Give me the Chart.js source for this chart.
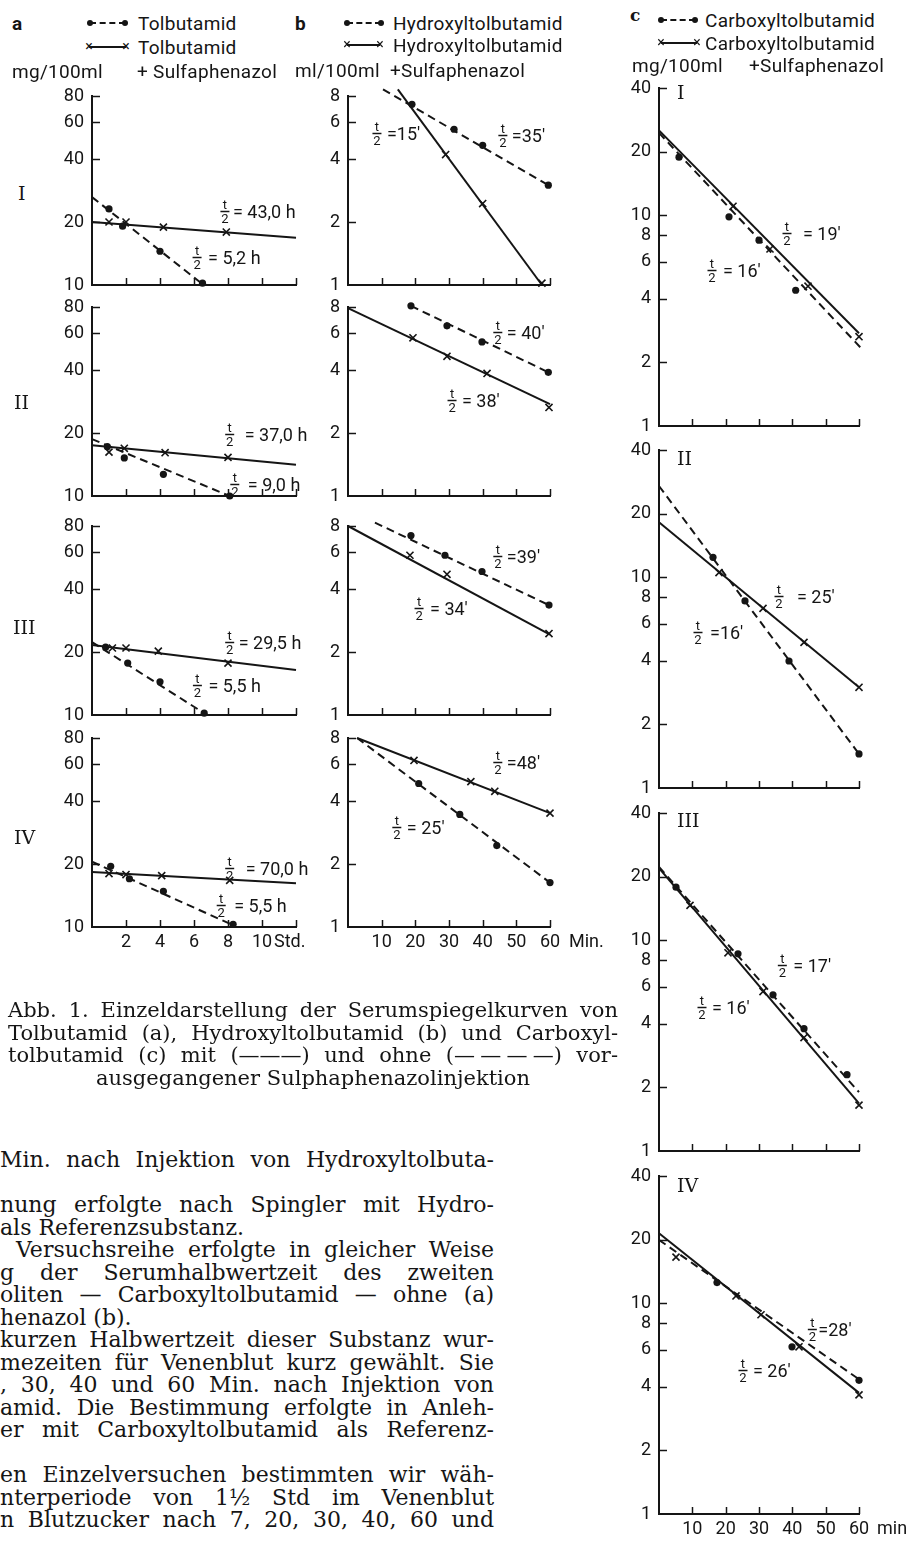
<!DOCTYPE html>
<html>
<head>
<meta charset="utf-8">
<script src="https://cdn.jsdelivr.net/npm/chart.js@4.4.0/dist/chart.umd.min.js"></script>
<style>
  body { margin: 0; background: #fff; }
  #page { position: relative; width: 907px; height: 1542px; overflow: hidden; background: #fff; color: #151515; font-family: Roboto, sans-serif; }
  canvas { position: absolute; }
  .t { position: absolute; white-space: nowrap; transform: translateY(-50%); line-height: 1; font-size: 19px; letter-spacing: 0.3px; }
  .hd { font-weight: bold; font-size: 19px; }
  .hc { font-family: 'DejaVu Serif', serif; font-weight: bold; font-size: 17px; }
  .rom { font-family: 'DejaVu Serif', serif; font-size: 19px; letter-spacing: 0; }
  .ln { position: absolute; height: 0; border-top: 2px solid #151515; }
  .ln.dash { border-top-style: dashed; }
  .dot { position: absolute; width: 6px; height: 6px; border-radius: 50%; background: #151515; }
  .x { position: absolute; font-size: 14px; line-height: 1; transform: translate(-50%, -55%); }
  .serif { position: absolute; font-family: 'DejaVu Serif', serif; white-space: nowrap; line-height: 1; transform: translateY(-50%); }
</style>
</head>
<body>
<div id="page"></div>
<script>
// ---- data ----
// a: Tolbutamid, hours vs mg/100ml
const aI_dotT = [1, 1.8, 4, 6.5],       aI_dotV = [23.1, 19.1, 14.5, 10.2];
const aI_crossT = [1, 2, 4.2, 7.9],     aI_crossV = [20.0, 20.0, 18.9, 17.9];
const aI_dashT = [0, 6.5],              aI_dashV = [26.3, 10.1];
const aI_solidT = [0, 12],              aI_solidV = [20.0, 16.8];

const aII_dotT = [0.9, 1.9, 4.2, 8.1],  aII_dotV = [17.2, 15.2, 12.7, 10.0];
const aII_crossT = [1, 1.9, 4.3, 8.0],  aII_crossV = [16.2, 16.9, 16.1, 15.3];
const aII_dashT = [0, 8.1],             aII_dashV = [18.7, 10.0];
const aII_solidT = [0, 12],             aII_solidV = [17.5, 14.1];

const aIII_dotT = [0.8, 2.1, 4.0, 6.6], aIII_dotV = [21.1, 17.7, 14.4, 10.2];
const aIII_crossT = [1.2, 2.0, 3.9, 8.0], aIII_crossV = [20.9, 20.9, 20.2, 17.7];
const aIII_dashT = [0, 6.6],            aIII_dashV = [22.3, 10.2];
const aIII_solidT = [0, 12],            aIII_solidV = [21.6, 16.4];

const aIV_dotT = [1.1, 2.2, 4.2, 8.3],  aIV_dotV = [19.5, 17.0, 14.8, 10.3];
const aIV_crossT = [1.0, 2.0, 4.1, 8.1], aIV_crossV = [18.0, 17.8, 17.6, 16.7];
const aIV_dashT = [0, 8.3],             aIV_dashV = [20.5, 10.2];
const aIV_solidT = [0, 12],             aIV_solidV = [18.3, 16.2];

// b: Hydroxyltolbutamid, minutes
const bI_dotT = [19, 31.5, 40, 59.5],   bI_dotV = [7.3, 5.55, 4.65, 3.0];
const bI_crossT = [29, 40, 57.6],       bI_crossV = [4.2, 2.45, 1.02];
const bI_dashT = [10.4, 59.5],          bI_dashV = [8.6, 3.0];
const bI_solidT = [14.8, 57.6],         bI_solidV = [8.6, 1.0];

const bII_dotT = [18.7, 29.4, 39.8, 59.5], bII_dotV = [8.1, 6.5, 5.45, 3.9];
const bII_crossT = [19.3, 29.4, 41.3, 59.7], bII_crossV = [5.7, 4.65, 3.85, 2.65];
const bII_dashT = [18.7, 59.5],         bII_dashV = [8.1, 3.9];
const bII_solidT = [0, 60],             bII_solidV = [7.9, 2.75];

const bIII_dotT = [18.7, 28.8, 39.8, 59.7], bIII_dotV = [7.2, 5.8, 4.85, 3.35];
const bIII_crossT = [18.4, 29.4, 59.7], bIII_crossV = [5.8, 4.7, 2.45];
const bIII_dashT = [8, 59.7],           bIII_dashV = [8.3, 3.35];
const bIII_solidT = [0, 60],            bIII_solidV = [8.0, 2.42];

const bIV_dotT = [21, 33.2, 44.2, 60],  bIV_dotV = [4.85, 3.45, 2.45, 1.63];
const bIV_crossT = [19.6, 36.5, 43.6, 60], bIV_crossV = [6.25, 4.95, 4.45, 3.5];
const bIV_dashT = [2.7, 60],            bIV_dashV = [8.0, 1.63];
const bIV_solidT = [2.7, 60],           bIV_solidV = [8.0, 3.5];

// c: Carboxyltolbutamid, minutes
const cI_dotT = [6, 21, 30, 41],        cI_dotV = [18.8, 9.8, 7.6, 4.4];
const cI_crossT = [22.2, 33.3, 44.7, 60], cI_crossV = [11.0, 6.9, 4.6, 2.65];
const cI_dashT = [0, 60.5],             cI_dashV = [24.5, 2.35];
const cI_solidT = [0, 60],              cI_solidV = [25.2, 2.75];

const cII_dotT = [16.2, 25.8, 39, 60],  cII_dotV = [12.4, 7.7, 4.0, 1.45];
const cII_crossT = [18, 31.2, 43.5, 60], cII_crossV = [10.5, 7.1, 4.9, 3.0];
const cII_dashT = [0, 60],              cII_dashV = [27.0, 1.45];
const cII_solidT = [0, 60],             cII_solidV = [18.2, 3.0];

const cIII_dotT = [5.1, 23.7, 34.2, 43.5, 56.4], cIII_dotV = [17.8, 8.6, 5.5, 3.8, 2.3];
const cIII_crossT = [9.3, 20.7, 31.2, 43.5, 60], cIII_crossV = [14.6, 8.7, 5.7, 3.45, 1.65];
const cIII_dashT = [0, 60],             cIII_dashV = [22.2, 1.9];
const cIII_solidT = [0, 60],            cIII_solidV = [21.9, 1.68];

const cIV_dotT = [17.4, 39.9, 60],      cIV_dotV = [12.5, 6.2, 4.3];
const cIV_crossT = [5.1, 23.1, 30.6, 42, 60], cIV_crossV = [16.5, 10.8, 8.8, 6.2, 3.67];
const cIV_dashT = [0, 60],              cIV_dashV = [19.9, 4.35];
const cIV_solidT = [0, 60],             cIV_solidV = [21.4, 3.75];

// axis ticks
const aYTicks = [10, 20, 40, 60, 80];
const bYTicks = [1, 2, 4, 6, 8];
const cYTicks = [1, 2, 4, 6, 8, 10, 20, 40];
const aXMarks = [2, 4, 6, 8, 10, 12], aXLabels = [2, 4, 6, 8, 10];
const minXMarks = [10, 20, 30, 40, 50, 60], minXLabels = [10, 20, 30, 40, 50, 60];

// half-life labels
const notesA = [
  [{t: 7.82, v: 22.6, s: '= 43,0 h', dx: 8}, {t: 6.18, v: 13.6, s: '= 5,2 h', dx: 11}],
  [{t: 8.1, v: 19.8, s: '= 37,0 h', dx: 15}, {t: 8.4, v: 11.4, s: '= 9,0 h', dx: 13}],
  [{t: 8.1, v: 22.3, s: '= 29,5 h', dx: 9}, {t: 6.2, v: 13.9, s: '= 5,5 h', dx: 11}],
  [{t: 8.1, v: 19.1, s: '= 70,0 h', dx: 16}, {t: 7.6, v: 12.7, s: '= 5,5 h', dx: 13}]
];
const notesB = [
  [{t: 8.6, v: 5.3, s: "=15'", dx: 10}, {t: 46, v: 5.2, s: "=35'", dx: 9}],
  [{t: 44.5, v: 6.07, s: "= 40'", dx: 9}, {t: 30.9, v: 2.87, s: "= 38'", dx: 10}],
  [{t: 44.5, v: 5.75, s: "=39'", dx: 9}, {t: 21.1, v: 3.24, s: "= 34'", dx: 11}],
  [{t: 44.5, v: 6.15, s: "=48'", dx: 9}, {t: 14.5, v: 3.0, s: "= 25'", dx: 10}]
];
const notesC = [
  [{t: 38.4, v: 8.2, s: "= 19'", dx: 16}, {t: 15.9, v: 5.5, s: "= 16'", dx: 11}],
  [{t: 36, v: 8.1, s: "= 25'", dx: 18}, {t: 11.7, v: 5.5, s: "=16'", dx: 12}],
  [{t: 37, v: 7.6, s: "= 17'", dx: 11}, {t: 12.9, v: 4.8, s: "= 16'", dx: 10}],
  [{t: 46, v: 7.5, s: "=28'", dx: 6}, {t: 25.2, v: 4.8, s: "= 26'", dx: 10}]
];

// ---- layout ----
const INK = '#151515';
const page = document.getElementById('page');
const COLS = {
  a: {L: 30, R: 330, axL: 92, axR: 296, rows: [96, 307, 526, 738], h: 189, xmax: 12, ymin: 10, ymax: 80,
      yTicks: aYTicks, xMarks: aXMarks, xLabels: aXLabels, unit: 'Std.', unitAt: 10, unitDx: 12},
  b: {L: 300, R: 615, axL: 348, axR: 550, rows: [96, 307, 526, 738], h: 189, xmax: 60, ymin: 1, ymax: 8,
      yTicks: bYTicks, xMarks: minXMarks, xLabels: minXLabels, unit: 'Min.', unitAt: 60, unitDx: 19},
  c: {L: 612, R: 907, axL: 659, axR: 859, rows: [88, 450, 813, 1176], h: 338, xmax: 60, ymin: 1, ymax: 40,
      yTicks: cYTicks, xMarks: minXMarks, xLabels: minXLabels, unit: 'min', unitAt: 60, unitDx: 18}
};

function xy(ts, vs) { return ts.map((t, i) => ({x: t, y: vs[i]})); }

function deco(g, notes, bottom) {
  return {
    id: 'deco',
    afterDraw(chart) {
      const ctx = chart.ctx, xs = chart.scales.x, ys = chart.scales.y, ar = chart.chartArea;
      ctx.save();
      ctx.strokeStyle = INK; ctx.fillStyle = INK; ctx.lineWidth = 1.5;
      g.yTicks.forEach(v => {
        if (v === g.ymin) return;
        const py = Math.round(ys.getPixelForValue(v)) + 0.5;
        ctx.beginPath(); ctx.moveTo(ar.left, py); ctx.lineTo(ar.left + 8, py); ctx.stroke();
      });
      g.xMarks.forEach(v => {
        const px = Math.round(xs.getPixelForValue(v)) + 0.5;
        ctx.beginPath(); ctx.moveTo(px, ar.bottom); ctx.lineTo(px, ar.bottom - 7); ctx.stroke();
      });
      if (bottom) {
        ctx.font = '18px Roboto'; ctx.textAlign = 'left'; ctx.textBaseline = 'middle';
        ctx.fillText(g.unit, xs.getPixelForValue(g.unitAt) + g.unitDx, ar.bottom + 5 + 10.8);
      }
      notes.forEach(n => {
        const px = xs.getPixelForValue(n.t), py = Math.round(ys.getPixelForValue(n.v));
        ctx.font = '13px Roboto'; ctx.textAlign = 'center';
        ctx.textBaseline = 'alphabetic'; ctx.fillText('t', px, py - 2);
        ctx.beginPath(); ctx.moveTo(px - 4.5, py + 0.5); ctx.lineTo(px + 4.5, py + 0.5); ctx.stroke();
        ctx.textBaseline = 'top'; ctx.fillText('2', px, py + 2);
        ctx.font = '18px Roboto'; ctx.textAlign = 'left'; ctx.textBaseline = 'middle';
        ctx.fillText(n.s, px + n.dx, py + 2);
      });
      ctx.restore();
    }
  };
}

function makePanel(col, row, set, notes) {
  const g = COLS[col];
  const bottom = row === 3;
  const axT = g.rows[row], axB = axT + g.h;
  const T = axT - 20, B = axB + 34;
  const cv = document.createElement('canvas');
  cv.width = g.R - g.L; cv.height = B - T;
  cv.style.left = g.L + 'px'; cv.style.top = T + 'px';
  page.appendChild(cv);
  const tickFont = {family: 'Roboto', size: 18};
  new Chart(cv, {
    type: 'scatter',
    data: {
      datasets: [
        {data: xy(set.dotT, set.dotV), pointStyle: 'circle', pointRadius: 3.6, backgroundColor: INK, borderWidth: 0, clip: false},
        {data: xy(set.crossT, set.crossV), pointStyle: 'crossRot', pointRadius: 5, borderColor: INK, borderWidth: 1.6, clip: false},
        {data: xy(set.dashT, set.dashV), showLine: true, borderColor: INK, borderWidth: 2, borderDash: [8, 5], pointRadius: 0, clip: false},
        {data: xy(set.solidT, set.solidV), showLine: true, borderColor: INK, borderWidth: 2, pointRadius: 0, clip: false}
      ]
    },
    options: {
      responsive: false, animation: false, devicePixelRatio: 1,
      layout: {padding: {left: 0, top: axT - T, right: g.R - g.axR, bottom: 0}},
      plugins: {legend: {display: false}, tooltip: {enabled: false}},
      scales: {
        x: {
          type: 'linear', min: 0, max: g.xmax,
          border: {display: true, color: INK, width: 2},
          grid: {display: false, drawTicks: false},
          ticks: {display: bottom, autoSkip: false, maxRotation: 0, padding: 5, color: INK, font: tickFont, callback: v => String(v)},
          afterBuildTicks: s => { s.ticks = g.xLabels.map(v => ({value: v})); },
          afterFit: s => { s.height = B - axB; }
        },
        y: {
          type: 'logarithmic', min: g.ymin, max: g.ymax,
          border: {display: true, color: INK, width: 2},
          grid: {display: false, drawTicks: false},
          ticks: {autoSkip: false, padding: 8, color: INK, font: tickFont, callback: v => String(v)},
          afterBuildTicks: s => { s.ticks = g.yTicks.map(v => ({value: v})); },
          afterFit: s => { s.width = g.axL - g.L; }
        }
      }
    },
    plugins: [deco(g, notes, bottom)]
  });
}

function S(dotT, dotV, crossT, crossV, dashT, dashV, solidT, solidV) {
  return {dotT, dotV, crossT, crossV, dashT, dashV, solidT, solidV};
}

makePanel('a', 0, S(aI_dotT, aI_dotV, aI_crossT, aI_crossV, aI_dashT, aI_dashV, aI_solidT, aI_solidV), notesA[0]);
makePanel('a', 1, S(aII_dotT, aII_dotV, aII_crossT, aII_crossV, aII_dashT, aII_dashV, aII_solidT, aII_solidV), notesA[1]);
makePanel('a', 2, S(aIII_dotT, aIII_dotV, aIII_crossT, aIII_crossV, aIII_dashT, aIII_dashV, aIII_solidT, aIII_solidV), notesA[2]);
makePanel('a', 3, S(aIV_dotT, aIV_dotV, aIV_crossT, aIV_crossV, aIV_dashT, aIV_dashV, aIV_solidT, aIV_solidV), notesA[3]);
makePanel('b', 0, S(bI_dotT, bI_dotV, bI_crossT, bI_crossV, bI_dashT, bI_dashV, bI_solidT, bI_solidV), notesB[0]);
makePanel('b', 1, S(bII_dotT, bII_dotV, bII_crossT, bII_crossV, bII_dashT, bII_dashV, bII_solidT, bII_solidV), notesB[1]);
makePanel('b', 2, S(bIII_dotT, bIII_dotV, bIII_crossT, bIII_crossV, bIII_dashT, bIII_dashV, bIII_solidT, bIII_solidV), notesB[2]);
makePanel('b', 3, S(bIV_dotT, bIV_dotV, bIV_crossT, bIV_crossV, bIV_dashT, bIV_dashV, bIV_solidT, bIV_solidV), notesB[3]);
makePanel('c', 0, S(cI_dotT, cI_dotV, cI_crossT, cI_crossV, cI_dashT, cI_dashV, cI_solidT, cI_solidV), notesC[0]);
makePanel('c', 1, S(cII_dotT, cII_dotV, cII_crossT, cII_crossV, cII_dashT, cII_dashV, cII_solidT, cII_solidV), notesC[1]);
makePanel('c', 2, S(cIII_dotT, cIII_dotV, cIII_crossT, cIII_crossV, cIII_dashT, cIII_dashV, cIII_solidT, cIII_solidV), notesC[2]);
makePanel('c', 3, S(cIV_dotT, cIV_dotV, cIV_crossT, cIV_crossV, cIV_dashT, cIV_dashV, cIV_solidT, cIV_solidV), notesC[3]);

// ---- header, legends, row numerals ----
function txt(x, y, s, cls) {
  const d = document.createElement('div');
  d.className = 't ' + (cls || '');
  d.textContent = s;
  d.style.left = x + 'px'; d.style.top = y + 'px';
  page.appendChild(d);
}
function mark(x1, x2, y, kind) {
  const l = document.createElement('div');
  l.className = 'ln' + (kind === 'dot' ? ' dash' : '');
  l.style.left = x1 + 'px'; l.style.width = (x2 - x1) + 'px'; l.style.top = (y - 1) + 'px';
  page.appendChild(l);
  [x1, x2].forEach(x => {
    const e = document.createElement('div');
    if (kind === 'dot') { e.className = 'dot'; e.style.left = (x - 3) + 'px'; e.style.top = (y - 3) + 'px'; }
    else { e.className = 'x'; e.textContent = '×'; e.style.left = x + 'px'; e.style.top = y + 'px'; }
    page.appendChild(e);
  });
}

txt(12, 23, 'a', 'hd');
mark(90, 125, 23, 'dot');   txt(138, 23, 'Tolbutamid');
mark(89, 126, 47, 'cross'); txt(138, 47, 'Tolbutamid');
txt(12, 71, 'mg/100ml');    txt(137, 71, '+ Sulfaphenazol');

txt(295, 23, 'b', 'hd');
mark(347, 381, 23, 'dot');   txt(393, 23, 'Hydroxyltolbutamid');
mark(347, 380, 45, 'cross'); txt(393, 45, 'Hydroxyltolbutamid');
txt(295, 70, 'ml/100ml');    txt(390, 70, '+Sulfaphenazol');

txt(630, 15, 'c', 'hc');
mark(661, 695, 20, 'dot');   txt(705, 20, 'Carboxyltolbutamid');
mark(661, 697, 43, 'cross'); txt(705, 43, 'Carboxyltolbutamid');
txt(632, 65, 'mg/100ml');    txt(749, 65, '+Sulfaphenazol');

[['I', 18, 193], ['II', 14, 402], ['III', 13, 627], ['IV', 14, 837]].forEach(r => txt(r[1], r[2], r[0], 'rom'));
[['I', 677, 92], ['II', 677, 458], ['III', 677, 820], ['IV', 677, 1185]].forEach(r => txt(r[1], r[2], r[0], 'rom'));

// ---- caption and running text (justified by word spacing) ----
function line(s, x1, x2, y, mode, size) {
  const d = document.createElement('div');
  d.className = 'serif'; d.textContent = s;
  d.style.top = y + 'px'; d.style.fontSize = size + 'px';
  page.appendChild(d);
  let w = d.getBoundingClientRect().width;
  if (w > x2 - x1) {
    d.style.letterSpacing = ((x2 - x1 - w) / s.length) + 'px';
    w = d.getBoundingClientRect().width;
  }
  const gaps = (s.match(/ /g) || []).length;
  if (mode === 'justify' && gaps) {
    d.style.wordSpacing = Math.max(0, (x2 - x1 - w) / gaps) + 'px';
    d.style.left = x1 + 'px';
  } else if (mode === 'center') {
    d.style.left = ((x1 + x2 - w) / 2) + 'px';
  } else {
    d.style.left = x1 + 'px';
  }
}

// four-per-em spaces inside the dashed sample are not stretched by word-spacing
const SP = '\u2005';
const capLines = [
  ['Abb. 1. Einzeldarstellung der Serumspiegelkurven von', 1010, 'justify'],
  ['Tolbutamid (a), Hydroxyltolbutamid (b) und Carboxyl-', 1033, 'justify'],
  ['tolbutamid (c) mit (\u2014\u2014\u2014) und ohne (\u2014' + SP + '\u2014' + SP + '\u2014' + SP + '\u2014) vor-', 1055, 'justify'],
  ['ausgegangener Sulphaphenazolinjektion', 1078, 'center']
];
capLines.forEach(c => line(c[0], 8, 618, c[1], c[2], 21));

const bodyLines = [
  ['Min. nach Injektion von Hydroxyltolbuta-', 0, 'justify'],
  ['nung erfolgte nach Spingler mit Hydro-', 2, 'justify'],
  ['als Referenzsubstanz.', 3, 'left'],
  ['Versuchsreihe erfolgte in gleicher Weise', 4, 'justify'],
  ['g der Serumhalbwertzeit des zweiten', 5, 'justify'],
  ['oliten \u2014 Carboxyltolbutamid \u2014 ohne (a)', 6, 'justify'],
  ['henazol (b).', 7, 'left'],
  ['kurzen Halbwertzeit dieser Substanz wur-', 8, 'justify'],
  ['mezeiten f\u00fcr Venenblut kurz gew\u00e4hlt. Sie', 9, 'justify'],
  [', 30, 40 und 60 Min. nach Injektion von', 10, 'justify'],
  ['amid. Die Bestimmung erfolgte in Anleh-', 11, 'justify'],
  ['er mit Carboxyltolbutamid als Referenz-', 12, 'justify'],
  ['en Einzelversuchen bestimmten wir w\u00e4h-', 14, 'justify'],
  ['nterperiode von 1\u00bd Std im Venenblut', 15, 'justify'],
  ['n Blutzucker nach 7, 20, 30, 40, 60 und', 16, 'justify']
];
bodyLines.forEach(b => line(b[0], b[0].startsWith('Versuchs') ? 16 : 0, 494, 1160 + 22.5 * b[1], b[2], 22));
</script>
</body>
</html>
